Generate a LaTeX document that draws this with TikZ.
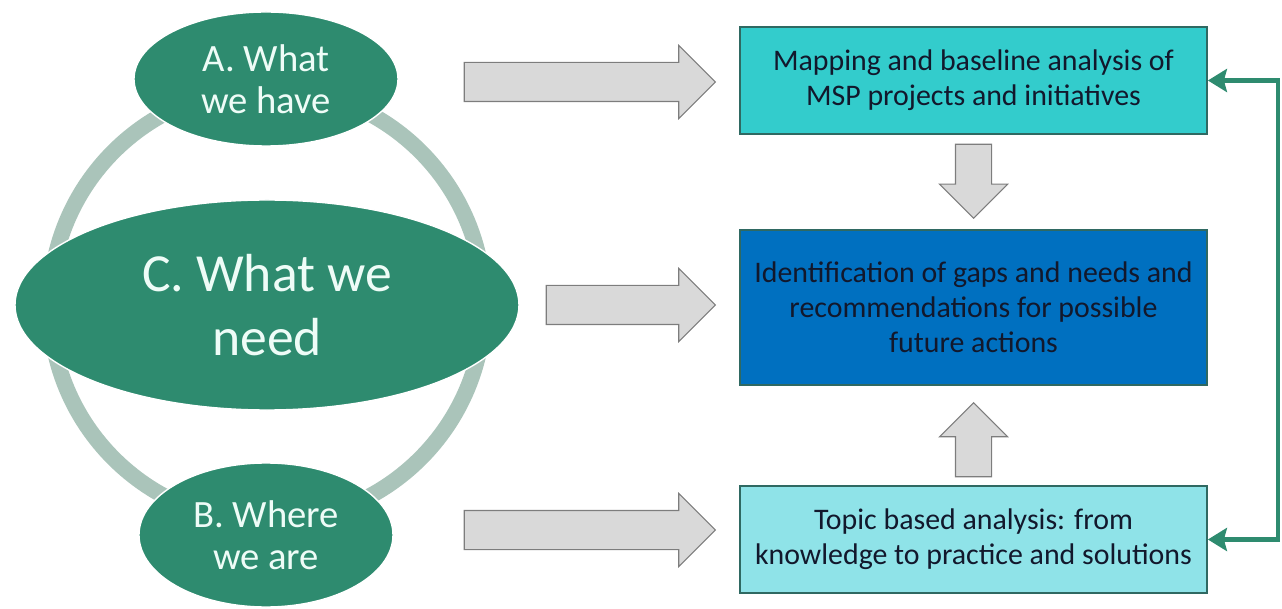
\documentclass[tikz,border=0pt]{standalone}
\usepackage{fontspec}
\setmainfont{Carlito}
\usepackage{tikz}
\usetikzlibrary{positioning}
\usetikzlibrary{shapes.geometric,shapes.arrows,arrows.meta}
\usepackage{xcolor}

\definecolor{stagegreen}{RGB}{46,139,111}
\definecolor{ringgray}{RGB}{170,196,186}
\definecolor{stagetext}{RGB}{238,252,247}
\definecolor{mapcyan}{RGB}{51,204,204}
\definecolor{gapblue}{RGB}{0,112,192}
\definecolor{topiccyan}{RGB}{143,227,232}
\definecolor{boxedge}{RGB}{47,105,98}
\definecolor{boxtext}{RGB}{18,24,44}
\definecolor{blockgray}{RGB}{217,217,217}
\definecolor{blockedge}{RGB}{125,125,125}

\tikzset{
  stage/.style={ellipse, fill=stagegreen, draw=white, line width=0.8pt, inner sep=0pt, text=stagetext, align=center},
  task/.style={rectangle, draw=boxedge, line width=1pt, minimum width=9.34cm, text=boxtext, align=center, font=\fontsize{17}{20}\selectfont},
  block/.style={single arrow, anchor=tip, fill=blockgray, draw=blockedge, line width=0.6pt, inner xsep=0pt, inner ysep=0.38cm, single arrow head extend=0.34cm, single arrow tip angle=90},
  smallblock/.style={block, inner ysep=0.35cm, minimum height=1.48cm, single arrow head extend=0.32cm},
  feedback/.style={draw=stagegreen, line width=2.8pt, {Stealth[length=0.38cm,width=0.46cm,inset=0.06cm]}-{Stealth[length=0.38cm,width=0.46cm,inset=0.06cm]}}
}

\begin{document}
\begin{tikzpicture}[x=0.2mm,y=-0.2mm]
\useasboundingbox (0,0) rectangle (1282,609);

% ring behind the three stages
\draw[ringgray, line width=0.32cm] (267,305) circle [radius=4.34cm];

\node[stage, minimum width=5.28cm, minimum height=2.68cm, font=\fontsize{22}{24}\selectfont] (have) at (266,79) {A. What\\we have};
\node[stage, minimum width=10.08cm, minimum height=4.2cm, font=\fontsize{30.5}{36}\selectfont] (need) at (267,305) {C. What we\\need};
\node[stage, minimum width=5.08cm, minimum height=2.88cm, font=\fontsize{22}{24}\selectfont] (are) at (266,535) {B. Where\\we are};

% tasks
\node[task, fill=mapcyan, minimum height=2.14cm] (mapping) at (973.5,80.5) {Mapping and baseline analysis of\\MSP projects and initiatives};
\node[task, fill=gapblue, minimum height=3.1cm] (gaps) at (973.5,307.5) {Identification of gaps and needs and\\recommendations for possible\\future actions};
\node[task, fill=topiccyan, minimum height=2.14cm] (topic) at (973.5,539.5) {Topic based analysis: from\\knowledge to practice and solutions};

% block arrows, placed by their tips
\node[block, minimum height=5.02cm] (toMapping) at (716,82) {};
\node[block, minimum height=3.38cm] (toGaps) at (716,305) {};
\node[block, minimum height=5.02cm] (toTopic) at (716,530) {};
\node[smallblock, rotate=-90] (down) at (973.5,219) {};
\node[smallblock, rotate=90] (up) at (973.5,402) {};

% feedback loop
\coordinate (turn) at (1278,539.5);
\draw[feedback] (topic.east) -- (turn) |- (mapping.east);

\end{tikzpicture}
\end{document}
